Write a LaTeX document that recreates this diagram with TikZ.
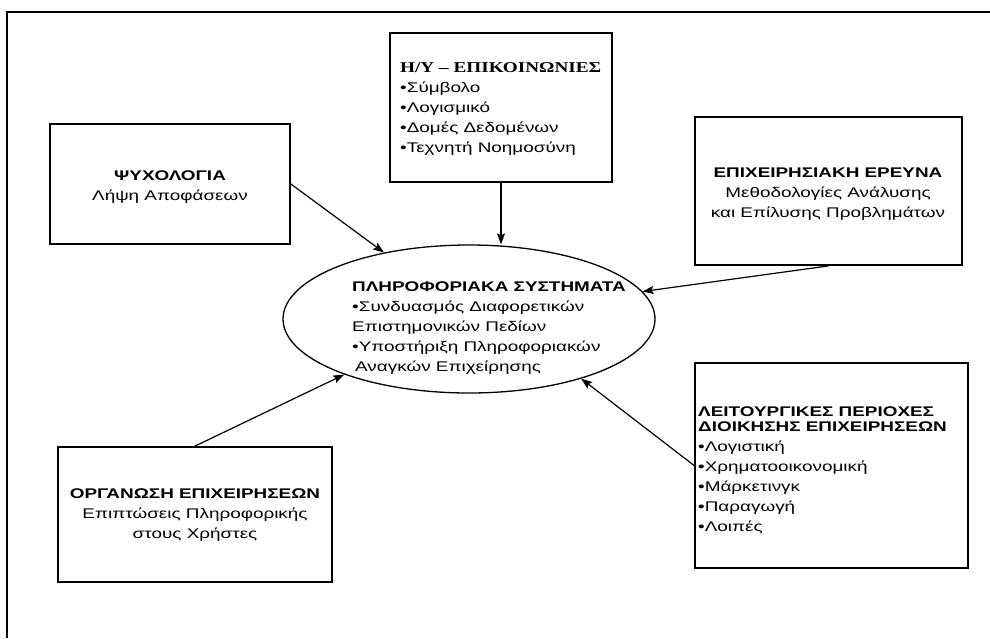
\documentclass[tikz,border=0pt]{standalone}
\usepackage{graphicx}
\usepackage{fontspec}
\setmainfont{Liberation Sans}[FakeStretch=1.35]
\newfontfamily\serifhead{Liberation Serif}
\usetikzlibrary{shapes.geometric,arrows.meta}

\tikzset{
  panel/.style={draw, line width=1.8pt, rectangle, inner sep=0pt},
  hub/.style={draw, line width=1.3pt, ellipse, inner sep=0pt},
  txt/.style={inner sep=0pt, font=\fontsize{14}{20}\selectfont},
  link/.style={line width=1.2pt, -{Stealth[length=11pt,width=8pt,inset=2pt]}},
}

\begin{document}
\begin{tikzpicture}[x=1pt,y=-1pt]
  \useasboundingbox (0,0) rectangle (990,638);
  \fill[white] (0,0) rectangle (990,638);
  % outer frame (top and left edges)
  \draw[line width=2.5pt] (7,638) -- (7,12) -- (990,12);

  % central ellipse
  \node[hub, minimum width=372, minimum height=148] (is) at (469,319) {};
  \node[txt, align=left, anchor=west] (istxt) at (352,328)
    {\textbf{ΠΛΗΡΟΦΟΡΙΑΚΑ ΣΥΣΤΗΜΑΤΑ}\\
     •Συνδυασμός Διαφορετικών\\
     Επιστημονικών Πεδίων\\
     •Υποστήριξη Πληροφοριακών\\
     \hspace{3pt}Αναγκών Επιχείρησης};

  % surrounding panels
  \node[panel, minimum width=222, minimum height=149] (hy) at (501,107.5) {};
  \node[txt, align=left, anchor=west] (hytxt) at (400,108.5)
    {\resizebox{201pt}{\height}{\serifhead\fontsize{15}{20}\selectfont\bfseries Η/Υ – ΕΠΙΚΟΙΝΩΝΙΕΣ}\\
     •Σύμβολο\\
     •Λογισμικό\\
     •Δομές Δεδομένων\\
     •Τεχνητή Νοημοσύνη};

  \node[panel, minimum width=240, minimum height=120] (psy) at (170,184) {};
  \node[txt, align=center] (psytxt) at (170,187)
    {\textbf{ΨΥΧΟΛΟΓΙΑ}\\Λήψη Αποφάσεων};

  \node[panel, minimum width=267, minimum height=148] (epi) at (828.5,191) {};
  \node[txt, align=center] (epitxt) at (828,194)
    {\textbf{ΕΠΙΧΕΙΡΗΣΙΑΚΗ ΕΡΕΥΝΑ}\\Μεθοδολογίες Ανάλυσης\\και Επίλυσης Προβλημάτων};

  \node[panel, minimum width=274, minimum height=135] (org) at (195,514.5) {};
  \node[txt, align=center] (orgtxt) at (195,515.5)
    {\textbf{ΟΡΓΑΝΩΣΗ ΕΠΙΧΕΙΡΗΣΕΩΝ}\\Επιπτώσεις Πληροφορικής\\στους Χρήστες};

  \node[panel, minimum width=273, minimum height=205] (leit) at (831.5,465.5) {};
  \node[txt, align=left, anchor=west] (leittxt) at (698,470)
    {\textbf{ΛΕΙΤΟΥΡΓΙΚΕΣ ΠΕΡΙΟΧΕΣ}\\[-5pt]
     \textbf{ΔΙΟΙΚΗΣΗΣ ΕΠΙΧΕΙΡΗΣΕΩΝ}\\
     •Λογιστική\\
     •Χρηματοοικονομική\\
     •Μάρκετινγκ\\
     •Παραγωγή\\
     •Λοιπές};

  % connectors into the ellipse
  \draw[link] (hy.south) -- (hy.south |- is.north);
  \draw[link] (psy.east) -- (is.142);
  \draw[link] (epi.south) -- (is.9);
  \draw[link] (org.north) -- (is.204);
  \draw[link] (leit.west) -- (is.332);
\end{tikzpicture}
\end{document}
